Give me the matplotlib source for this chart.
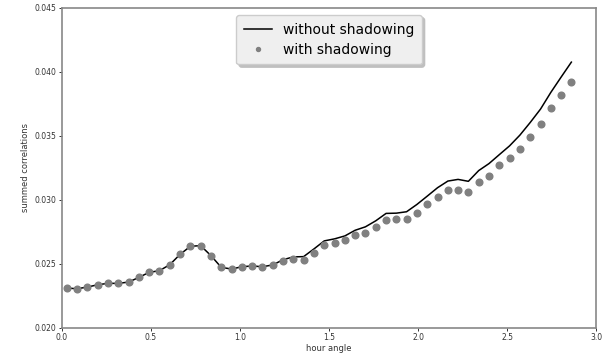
import numpy as np
import matplotlib
matplotlib.use('Agg')
import matplotlib.pyplot as plt

# hour angle samples
hour_angle = [0.028, 0.086, 0.144, 0.201, 0.259, 0.317, 0.375, 0.433, 0.490, 0.548,
              0.606, 0.664, 0.722, 0.779, 0.837, 0.895, 0.953, 1.011, 1.068, 1.126,
              1.184, 1.242, 1.300, 1.357, 1.415, 1.473, 1.531, 1.589, 1.646, 1.704,
              1.762, 1.820, 1.878, 1.935, 1.993, 2.051, 2.109, 2.167, 2.224, 2.282,
              2.340, 2.398, 2.456, 2.513, 2.571, 2.629, 2.687, 2.745, 2.802, 2.860]

# summed correlations, without shadowing (line)
no_shadow = [0.02309, 0.02304, 0.02317, 0.02335, 0.02346, 0.02346, 0.02356, 0.02393, 0.02432, 0.02445,
             0.02492, 0.02573, 0.02636, 0.02641, 0.02563, 0.02471, 0.02458, 0.02476, 0.02482, 0.02476,
             0.02490, 0.02531, 0.02553, 0.02555, 0.02615, 0.02678, 0.02694, 0.02717, 0.02761, 0.02788,
             0.02835, 0.02893, 0.02895, 0.02906, 0.02963, 0.03028, 0.03094, 0.03146, 0.03159, 0.03144,
             0.03228, 0.03283, 0.03353, 0.03421, 0.03505, 0.03604, 0.03709, 0.03840, 0.03958, 0.04076]

# summed correlations, with shadowing (dots)
with_shadow = [0.02309, 0.02304, 0.02317, 0.02335, 0.02346, 0.02346, 0.02356, 0.02393, 0.02432, 0.02445,
               0.02492, 0.02573, 0.02636, 0.02641, 0.02563, 0.02471, 0.02458, 0.02476, 0.02482, 0.02476,
               0.02490, 0.02518, 0.02537, 0.02529, 0.02581, 0.02644, 0.02659, 0.02683, 0.02725, 0.02741,
               0.02785, 0.02843, 0.02851, 0.02851, 0.02900, 0.02963, 0.03023, 0.03073, 0.03078, 0.03060,
               0.03142, 0.03189, 0.03268, 0.03325, 0.03397, 0.03494, 0.03590, 0.03721, 0.03821, 0.03923]

fig = plt.figure(figsize=(6.06, 3.6), dpi=100)
ax = fig.add_axes([0.102, 0.09, 0.882, 0.888])

ax.plot(hour_angle, no_shadow, color='black', linewidth=1.1, label='without shadowing')
ax.plot(hour_angle, with_shadow, 'o', color='gray', markersize=4.8, label='with shadowing')

ax.set_xlim(0, 3.0)
ax.set_ylim(0.020, 0.045)
ax.set_xticks([0.0, 0.5, 1.0, 1.5, 2.0, 2.5, 3.0])
ax.set_yticks([0.020, 0.025, 0.030, 0.035, 0.040, 0.045])
ax.yaxis.set_major_formatter(plt.FormatStrFormatter('%.3f'))
ax.tick_params(labelsize=5.5, colors='#333333', length=2.5, width=0.7, pad=1.5)
for s in ax.spines.values():
    s.set_color('#888888')
    s.set_linewidth(1.2)

ax.set_xlabel('hour angle', fontsize=6, color='#333333', labelpad=1)
ax.set_ylabel('summed correlations', fontsize=6, color='#333333', labelpad=3)

leg = ax.legend(loc='upper center', fontsize=10, shadow={'color': '0.75', 'alpha': 1},
                framealpha=1, borderaxespad=0.5, handlelength=2.0, borderpad=0.55,
                labelspacing=0.45, markerscale=0.6)
leg.get_frame().set_facecolor('#efefef')
leg.get_frame().set_edgecolor('#cccccc')

fig.savefig('out.png', dpi=100)
